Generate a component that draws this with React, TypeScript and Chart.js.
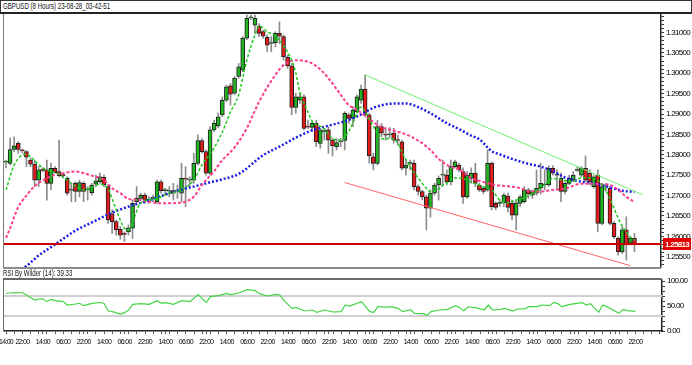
import React, { useEffect, useRef } from 'react';
import { Chart, registerables } from 'chart.js';
Chart.register(...registerables);

const TITLE = 'GBPUSD (8 Hours) 23-08-28_03-42-51';
const RSI_TITLE = 'RSI By Wilder (14): 39.33';
const FONT = "'Liberation Sans', Arial, sans-serif";

const SLOT_COUNT = 161;
const LAST_PRICE = 1.25813;
const Y_MIN = 1.25248;
const Y_MAX = 1.31454;

const OPEN = [
  1.2782, 1.2779, 1.2813, 1.2828, 1.2811, 1.2808, 1.2787, 1.2777, 1.2738, 1.2763,
  1.2763, 1.2730, 1.2767, 1.2759, 1.2750, 1.2742, 1.2713, 1.2730, 1.2710, 1.2730,
  1.2714, 1.2707, 1.2728, 1.2734, 1.2745, 1.2722, 1.2655, 1.2636, 1.2617, 1.2606,
  1.2611, 1.2620, 1.2685, 1.2693, 1.2701, 1.2689, 1.2693, 1.2685, 1.2734, 1.2712,
  1.2711, 1.2712, 1.2711, 1.2706, 1.2741, 1.2738, 1.2738, 1.2779, 1.2835, 1.2808,
  1.2755, 1.2861, 1.2871, 1.2898, 1.2934, 1.2969, 1.2951, 1.2992, 1.3008, 1.3086,
  1.3136, 1.3118, 1.3116, 1.3102, 1.3088, 1.3073, 1.3075, 1.3098, 1.3090, 1.3039,
  1.3018, 1.2916, 1.2934, 1.2942, 1.2869, 1.2867, 1.2877, 1.2828, 1.2857, 1.2861,
  1.2836, 1.2820, 1.2832, 1.2835, 1.2898, 1.2889, 1.2906, 1.2934, 1.2961, 1.2898,
  1.2795, 1.2779, 1.2869, 1.2849, 1.2849, 1.2853, 1.2836, 1.2832, 1.2767, 1.2779,
  1.2779, 1.2722, 1.2710, 1.2697, 1.2669, 1.2706, 1.2726, 1.2750, 1.2750, 1.2734,
  1.2771, 1.2775, 1.2759, 1.2697, 1.2742, 1.2755, 1.2726, 1.2718, 1.2714, 1.2779,
  1.2681, 1.2681, 1.2682, 1.2699, 1.2681, 1.2652, 1.2681, 1.2685, 1.2714, 1.2701,
  1.2706, 1.2718, 1.2726, 1.2726, 1.2767, 1.2750, 1.2742, 1.2710, 1.2730, 1.2738,
  1.2762, 1.2750, 1.2767, 1.2755, 1.2722, 1.2750, 1.2632, 1.2723, 1.2718, 1.2632,
  1.2595, 1.2562, 1.2616, 1.2583, 1.2595
];
const HIGH = [
  1.2787, 1.2841, 1.2844, 1.2832, 1.2814, 1.2810, 1.2792, 1.2787, 1.2771, 1.2768,
  1.2787, 1.2780, 1.2771, 1.2836, 1.2755, 1.2746, 1.2730, 1.2734, 1.2738, 1.2734,
  1.2722, 1.2730, 1.2750, 1.2755, 1.2750, 1.2726, 1.2665, 1.2640, 1.2624, 1.2611,
  1.2628, 1.2689, 1.2722, 1.2706, 1.2706, 1.2697, 1.2701, 1.2738, 1.2738, 1.2718,
  1.2722, 1.2730, 1.2726, 1.2779, 1.2771, 1.2746, 1.2804, 1.2849, 1.2840, 1.2812,
  1.2869, 1.2885, 1.2902, 1.2942, 1.2971, 1.2975, 1.2992, 1.3024, 1.3090, 1.3143,
  1.3143, 1.3143, 1.3122, 1.3106, 1.3094, 1.3090, 1.3102, 1.3126, 1.3094, 1.3045,
  1.3024, 1.2951, 1.2951, 1.2947, 1.2885, 1.2881, 1.2885, 1.2865, 1.2865, 1.2869,
  1.2840, 1.2840, 1.2840, 1.2906, 1.2902, 1.2918, 1.2947, 1.2971, 1.2996, 1.2902,
  1.2804, 1.2885, 1.2877, 1.2867, 1.2867, 1.2865, 1.2849, 1.2836, 1.2787, 1.2787,
  1.2787, 1.2726, 1.2714, 1.2701, 1.2714, 1.2730, 1.2748, 1.2787, 1.2763, 1.2787,
  1.2787, 1.2780, 1.2768, 1.2759, 1.2768, 1.2779, 1.2730, 1.2722, 1.2812, 1.2783,
  1.2685, 1.2689, 1.2706, 1.2706, 1.2689, 1.2689, 1.2701, 1.2722, 1.2718, 1.2714,
  1.2763, 1.2780, 1.2763, 1.2773, 1.2773, 1.2763, 1.2755, 1.2734, 1.2750, 1.2759,
  1.2771, 1.2771, 1.2797, 1.2763, 1.2750, 1.2763, 1.2726, 1.2730, 1.2722, 1.2636,
  1.2599, 1.2624, 1.2648, 1.2599, 1.2607
];
const LOW = [
  1.2768, 1.2775, 1.2808, 1.2804, 1.2804, 1.2771, 1.2771, 1.2722, 1.2722, 1.2758,
  1.2689, 1.2714, 1.2755, 1.2746, 1.2743, 1.2701, 1.2685, 1.2685, 1.2697, 1.2685,
  1.2689, 1.2701, 1.2722, 1.2730, 1.2722, 1.2632, 1.2607, 1.2603, 1.2593, 1.2587,
  1.2603, 1.2595, 1.2681, 1.2689, 1.2681, 1.2681, 1.2685, 1.2681, 1.2706, 1.2701,
  1.2697, 1.2689, 1.2693, 1.2685, 1.2673, 1.2722, 1.2730, 1.2775, 1.2804, 1.2750,
  1.2750, 1.2857, 1.2866, 1.2893, 1.2930, 1.2922, 1.2947, 1.2988, 1.3004, 1.3082,
  1.3131, 1.3098, 1.3090, 1.3086, 1.3053, 1.3053, 1.3065, 1.3073, 1.3032, 1.3012,
  1.2898, 1.2902, 1.2926, 1.2861, 1.2865, 1.2857, 1.2820, 1.2816, 1.2836, 1.2804,
  1.2797, 1.2812, 1.2820, 1.2812, 1.2877, 1.2869, 1.2902, 1.2926, 1.2893, 1.2780,
  1.2763, 1.2775, 1.2844, 1.2836, 1.2841, 1.2829, 1.2824, 1.2763, 1.2750, 1.2763,
  1.2714, 1.2701, 1.2689, 1.2616, 1.2647, 1.2701, 1.2689, 1.2722, 1.2726, 1.2726,
  1.2768, 1.2758, 1.2681, 1.2693, 1.2730, 1.2722, 1.2710, 1.2704, 1.2710, 1.2665,
  1.2665, 1.2673, 1.2673, 1.2660, 1.2640, 1.2616, 1.2673, 1.2682, 1.2693, 1.2693,
  1.2701, 1.2704, 1.2714, 1.2722, 1.2750, 1.2714, 1.2685, 1.2704, 1.2726, 1.2734,
  1.2759, 1.2746, 1.2734, 1.2726, 1.2718, 1.2611, 1.2628, 1.2710, 1.2628, 1.2595,
  1.2554, 1.2558, 1.2542, 1.2579, 1.2562
];
const CLOSE = [
  1.2783, 1.2813, 1.2822, 1.2813, 1.2810, 1.2794, 1.2777, 1.2738, 1.2763, 1.2762,
  1.2730, 1.2767, 1.2756, 1.2749, 1.2749, 1.2706, 1.2714, 1.2710, 1.2732, 1.2710,
  1.2715, 1.2726, 1.2736, 1.2746, 1.2726, 1.2640, 1.2636, 1.2616, 1.2603, 1.2605,
  1.2621, 1.2681, 1.2693, 1.2701, 1.2689, 1.2690, 1.2694, 1.2734, 1.2712, 1.2713,
  1.2712, 1.2706, 1.2712, 1.2742, 1.2740, 1.2740, 1.2779, 1.2835, 1.2808, 1.2755,
  1.2861, 1.2878, 1.2893, 1.2934, 1.2967, 1.2949, 1.2988, 1.3016, 1.3086, 1.3135,
  1.3137, 1.3135, 1.3098, 1.3091, 1.3069, 1.3074, 1.3098, 1.3091, 1.3041, 1.3018,
  1.2916, 1.2942, 1.2942, 1.2865, 1.2868, 1.2877, 1.2832, 1.2861, 1.2858, 1.2836,
  1.2822, 1.2830, 1.2833, 1.2902, 1.2889, 1.2910, 1.2942, 1.2961, 1.2898, 1.2798,
  1.2779, 1.2869, 1.2853, 1.2848, 1.2850, 1.2836, 1.2835, 1.2767, 1.2775, 1.2780,
  1.2722, 1.2710, 1.2697, 1.2669, 1.2706, 1.2726, 1.2742, 1.2751, 1.2734, 1.2771,
  1.2783, 1.2763, 1.2697, 1.2750, 1.2755, 1.2730, 1.2714, 1.2710, 1.2779, 1.2673,
  1.2671, 1.2682, 1.2701, 1.2671, 1.2652, 1.2682, 1.2697, 1.2714, 1.2704, 1.2710,
  1.2718, 1.2730, 1.2727, 1.2767, 1.2755, 1.2751, 1.2710, 1.2730, 1.2742, 1.2750,
  1.2763, 1.2767, 1.2738, 1.2734, 1.2746, 1.2632, 1.2722, 1.2724, 1.2632, 1.2599,
  1.2562, 1.2616, 1.2579, 1.2595, 1.2581
];

// [candle index, value]
const MA_FAST = [
  [0, 1.2714], [2, 1.2775], [5, 1.2802], [6, 1.2795], [9, 1.2768], [13, 1.2752], [17, 1.2723], [19, 1.2714],
  [21, 1.2720], [23, 1.2728], [25, 1.2716], [27, 1.2665], [29, 1.2620], [30, 1.2616], [31, 1.2635], [33, 1.2682],
  [35, 1.2689], [37, 1.2693], [40, 1.2706], [42, 1.2710], [44, 1.2720], [46, 1.2738], [48, 1.2775], [51, 1.2817],
  [53, 1.2856], [55, 1.2905], [57, 1.2947], [59, 1.3032], [61, 1.3094], [62, 1.3116], [64, 1.3102], [66, 1.3091],
  [68, 1.3067], [70, 1.3032], [71, 1.3001], [72, 1.2954], [74, 1.2905], [75, 1.2883], [78, 1.2864], [80, 1.2840],
  [82, 1.2836], [84, 1.2858], [85, 1.2878], [87, 1.2917], [88, 1.2905], [89, 1.2888], [91, 1.2853], [92, 1.2839],
  [94, 1.2840], [96, 1.2829], [97, 1.2807], [99, 1.2771], [101, 1.2743], [103, 1.2718], [104, 1.2710], [106, 1.2716],
  [107, 1.2726], [109, 1.2736], [110, 1.2743], [112, 1.2742], [114, 1.2733], [117, 1.2721], [119, 1.2714], [121, 1.2689],
  [123, 1.2682], [125, 1.2689], [127, 1.2695], [130, 1.2710], [132, 1.2727], [134, 1.2742], [136, 1.2739], [139, 1.2734],
  [141, 1.2744], [144, 1.2742], [146, 1.2728], [148, 1.2692], [150, 1.2645], [151, 1.2625], [153, 1.2598], [154, 1.2591]
];
const MA_MID = [
  [0, 1.2596], [1, 1.2620], [3, 1.2672], [5, 1.2700], [7, 1.2723], [9, 1.2737], [12, 1.2751], [14, 1.2755],
  [17, 1.2759], [19, 1.2755], [21, 1.2749], [24, 1.2738], [26, 1.2718], [28, 1.2706], [30, 1.2692], [33, 1.2689],
  [35, 1.2685], [38, 1.2681], [40, 1.2681], [43, 1.2683], [44, 1.2685], [46, 1.2697], [48, 1.2726], [51, 1.2760],
  [53, 1.2787], [56, 1.2818], [59, 1.2865], [62, 1.2930], [66, 1.2996], [68, 1.3020], [71, 1.3032], [74, 1.3028],
  [76, 1.3018], [79, 1.2988], [81, 1.2961], [84, 1.2922], [86, 1.2910], [89, 1.2888], [92, 1.2867], [94, 1.2862],
  [98, 1.2850], [101, 1.2835], [104, 1.2812], [106, 1.2790], [109, 1.2770], [111, 1.2764], [114, 1.2743], [117, 1.2733],
  [120, 1.2726], [123, 1.2723], [126, 1.2718], [128, 1.2711], [131, 1.2710], [134, 1.2714], [137, 1.2717], [141, 1.2729],
  [146, 1.2728], [148, 1.2726], [150, 1.2714], [152, 1.2697], [154, 1.2684]
];
const MA_SLOW = [
  [3, 1.2513], [5, 1.2527], [8, 1.2553], [12, 1.2580], [17, 1.2614], [21, 1.2634], [26, 1.2658], [30, 1.2673],
  [34, 1.2685], [38, 1.2699], [42, 1.2712], [46, 1.2722], [49, 1.2730], [53, 1.2740], [57, 1.2753], [63, 1.2799],
  [67, 1.2820], [71, 1.2842], [75, 1.2860], [80, 1.2874], [83, 1.2882], [86, 1.2894], [90, 1.2915], [94, 1.2925],
  [98, 1.2926], [101, 1.2917], [104, 1.2902], [108, 1.2878], [111, 1.2863], [114, 1.2847], [116, 1.2838], [119, 1.2809],
  [121, 1.2801], [124, 1.2790], [128, 1.2778], [131, 1.2771], [134, 1.2760], [137, 1.2744], [141, 1.2734], [144, 1.2730],
  [147, 1.2723], [151, 1.2712], [154, 1.2709]
];
const UPPER_TREND = [[88, 1.2996], [156, 1.2702]];
const LOWER_TREND = [[83, 1.2732], [153, 1.2528]];

const RSI = [
  [0, 75], [2, 77], [4, 76.5], [5, 72], [7, 62], [8, 64], [9, 64.5], [10, 58.7], [11, 63.3], [12, 60.7],
  [14, 58.7], [15, 52], [17, 54], [18, 55.3], [19, 50.7], [21, 55.3], [23, 57], [24, 55], [25, 40], [26, 38.7],
  [28, 34], [29, 36.7], [30, 42], [31, 53.3], [33, 54.7], [35, 53.3], [37, 60.7], [38, 55.3], [39, 56.7], [41, 53.3],
  [43, 60.7], [45, 58.7], [47, 72.7], [49, 56.7], [50, 68.7], [52, 70.7], [54, 75.3], [55, 72.7], [57, 76], [59, 82.7],
  [61, 80.7], [62, 74.7], [64, 70], [66, 73.3], [67, 72], [68, 60.7], [70, 45.3], [71, 47.3], [73, 40], [75, 42],
  [76, 37.3], [78, 42], [80, 38], [82, 38.7], [83, 52], [84, 50], [87, 58.7], [89, 38.7], [90, 37.3], [91, 49.3],
  [93, 47.3], [94, 48.7], [96, 45.3], [97, 38.7], [99, 42], [100, 35.3], [102, 34.7], [103, 31.3], [104, 38.7], [106, 42],
  [108, 43.3], [110, 50.7], [111, 46.7], [112, 40], [113, 48], [115, 46.7], [117, 42], [118, 52], [119, 42], [121, 43.3],
  [122, 45.3], [124, 40], [125, 44], [127, 44.7], [128, 48.7], [130, 48.7], [131, 52], [133, 50.7], [134, 57.3], [135, 54.7],
  [136, 48.7], [138, 53.3], [141, 56.7], [142, 52], [143, 54.7], [145, 37.3], [146, 52], [147, 48.7], [150, 35.3], [151, 43.3],
  [152, 40.7], [154, 39.33]
];
const RSI_LEVELS = [70, 30];
const RSI_LABELS = [0, 50, 100];

const TICK_INDEX = [0, 4, 9, 14, 19, 24, 29, 34, 39, 44, 49, 54, 59, 64, 69, 74, 79, 84, 89, 94, 99, 104, 109, 114, 119, 124, 129, 134, 139, 144, 149, 154];
const TICK_TEXT = ['14:00', '22:00', '14:00', '06:00', '22:00', '14:00', '06:00', '22:00', '14:00', '06:00', '22:00', '14:00', '06:00', '22:00', '14:00', '06:00',
  '22:00', '14:00', '06:00', '22:00', '14:00', '06:00', '22:00', '14:00', '06:00', '22:00', '14:00', '06:00', '22:00', '14:00', '06:00', '22:00'];

const SLOT_LABELS = Array.from({ length: SLOT_COUNT }, (_, i) => String(i));

function toSeries(pairs: number[][]) {
  const a: (number | null)[] = new Array(SLOT_COUNT).fill(null);
  pairs.forEach(([i, v]) => { a[i] = v; });
  return a;
}

const priceTicks: number[] = [];
for (let k = 1253; k <= 1314; k++) priceTicks.push(k / 1000);
const isMajorPrice = (v: number) => Math.abs(v * 200 - Math.round(v * 200)) < 1e-6;

const tightText = {
  id: 'tightText',
  beforeDraw(chart: any) {
    try { chart.ctx.letterSpacing = '-0.7px'; } catch (e) { /* ignore */ }
  }
};

const mainPlugin = {
  id: 'mainDecor',
  afterDatasetsDraw(chart: any) {
    const { ctx, chartArea: a, scales } = chart;
    const y = Math.round(scales.y.getPixelForValue(LAST_PRICE));
    ctx.save();
    ctx.strokeStyle = '#c80000';
    ctx.lineWidth = 2;
    ctx.beginPath();
    ctx.moveTo(a.left, y);
    ctx.lineTo(a.right, y);
    ctx.stroke();
    ctx.restore();
  },
  afterDraw(chart: any) {
    const { ctx, chartArea: a, scales } = chart;
    ctx.save();
    ctx.strokeStyle = '#7a7a7a';
    ctx.lineWidth = 1;
    ctx.beginPath();
    ctx.moveTo(a.left - 0.5, a.top);
    ctx.lineTo(a.left - 0.5, a.bottom + 1);
    ctx.stroke();
    ctx.strokeStyle = '#8a8a8a';
    ctx.lineWidth = 2;
    ctx.beginPath();
    ctx.moveTo(a.left - 1, a.bottom + 1);
    ctx.lineTo(a.right, a.bottom + 1);
    ctx.stroke();
    const y = Math.round(scales.y.getPixelForValue(LAST_PRICE));
    ctx.fillStyle = '#e00000';
    ctx.fillRect(a.right + 2, y - 6, 28, 12);
    ctx.fillStyle = '#ffffff';
    ctx.font = `bold 8px ${FONT}`;
    ctx.textBaseline = 'middle';
    ctx.textAlign = 'left';
    ctx.fillText(LAST_PRICE.toFixed(5), a.right + 4, y + 0.5);
    ctx.restore();
  }
};

const rsiPlugin = {
  id: 'rsiDecor',
  beforeDatasetsDraw(chart: any) {
    const { ctx, chartArea: a, scales } = chart;
    ctx.save();
    ctx.strokeStyle = '#cfcfcf';
    ctx.lineWidth = 2;
    RSI_LEVELS.forEach((lv) => {
      const y = Math.round(scales.y.getPixelForValue(lv));
      ctx.beginPath();
      ctx.moveTo(a.left, y);
      ctx.lineTo(a.right, y);
      ctx.stroke();
    });
    ctx.restore();
  },
  afterDraw(chart: any) {
    const { ctx, chartArea: a } = chart;
    ctx.save();
    ctx.strokeStyle = '#6a6a6a';
    ctx.lineWidth = 1;
    ctx.beginPath();
    ctx.moveTo(a.left - 0.5, a.top - 1);
    ctx.lineTo(a.left - 0.5, a.bottom);
    ctx.stroke();
    ctx.lineWidth = 2;
    ctx.beginPath();
    ctx.moveTo(a.left - 1, a.top - 1);
    ctx.lineTo(a.right, a.top - 1);
    ctx.stroke();
    ctx.restore();
  }
};

const noPad = (scale: any) => {
  scale.paddingTop = 0;
  scale.paddingBottom = 0;
  scale.paddingLeft = 0;
  scale.paddingRight = 0;
};

export default function App() {
  const mainRef = useRef<HTMLCanvasElement>(null);
  const rsiRef = useRef<HTMLCanvasElement>(null);

  useEffect(() => {
    const bodies = OPEN.map((o, i) => [o, CLOSE[i]]);
    const wicks = LOW.map((l, i) => [l, HIGH[i]]);
    const bodyColors = OPEN.map((o, i) => (CLOSE[i] >= o ? '#22b422' : '#e51c1c'));

    const main = new Chart(mainRef.current as HTMLCanvasElement, {
      type: 'bar',
      data: {
        labels: SLOT_LABELS,
        datasets: [
          { type: 'line', label: 'Upper trend', data: toSeries(UPPER_TREND), borderColor: '#6ef06e', borderWidth: 1, pointRadius: 0, spanGaps: true, order: 0 } as any,
          { type: 'line', label: 'Lower trend', data: toSeries(LOWER_TREND), borderColor: '#ff6464', borderWidth: 1, pointRadius: 0, spanGaps: true, order: 0 } as any,
          { type: 'line', label: 'MA fast', data: toSeries(MA_FAST), borderColor: '#1ec81e', borderWidth: 1.5, borderDash: [3, 2], pointRadius: 0, spanGaps: true, cubicInterpolationMode: 'monotone', order: 1 } as any,
          { type: 'line', label: 'MA mid', data: toSeries(MA_MID), borderColor: '#ff3d8e', borderWidth: 2, borderDash: [3, 2], pointRadius: 0, spanGaps: true, cubicInterpolationMode: 'monotone', order: 2 } as any,
          { type: 'line', label: 'MA slow', data: toSeries(MA_SLOW), borderColor: '#1c1ce6', borderWidth: 2.5, borderDash: [2, 2], pointRadius: 0, spanGaps: true, cubicInterpolationMode: 'monotone', order: 3 } as any,
          { type: 'bar', label: 'Body', data: bodies, backgroundColor: bodyColors, borderColor: '#1f1f1f', borderWidth: 1, borderSkipped: false, barThickness: 4, minBarLength: 1, grouped: false, order: 4 } as any,
          { type: 'bar', label: 'Wick', data: wicks, backgroundColor: '#8c8c8c', borderWidth: 0, barThickness: 1, grouped: false, order: 5 } as any,
        ]
      },
      options: {
        animation: false,
        responsive: false,
        maintainAspectRatio: false,
        layout: { padding: { left: 4, top: 14, right: 0, bottom: 3 } },
        plugins: { legend: { display: false }, tooltip: { enabled: false } },
        scales: {
          x: { display: false, offset: true, grid: { display: false } },
          y: {
            position: 'right',
            min: Y_MIN,
            max: Y_MAX,
            afterBuildTicks: (scale: any) => { scale.ticks = priceTicks.map((value) => ({ value })); },
            afterFit: (scale: any) => { scale.width = 31; noPad(scale); },
            ticks: {
              autoSkip: false,
              padding: 2,
              color: '#000',
              font: { family: FONT, size: 8 },
              callback: (v: any) => (isMajorPrice(Number(v)) ? Number(v).toFixed(5) : ''),
            },
            grid: { drawOnChartArea: false, tickLength: 3, color: '#333' },
            border: { color: '#222', width: 1.5 },
          } as any,
        }
      },
      plugins: [tightText, mainPlugin]
    } as any);

    const tickMap: Record<number, string> = {};
    TICK_INDEX.forEach((ix, k) => { tickMap[ix] = TICK_TEXT[k]; });

    const rsi = new Chart(rsiRef.current as HTMLCanvasElement, {
      type: 'line',
      data: {
        labels: SLOT_LABELS,
        datasets: [
          { label: 'RSI', data: toSeries(RSI), borderColor: '#44d444', borderWidth: 1.2, pointRadius: 0, spanGaps: true, tension: 0 } as any,
        ]
      },
      options: {
        animation: false,
        responsive: false,
        maintainAspectRatio: false,
        layout: { padding: { left: 4, top: 10, right: 0, bottom: 0 } },
        plugins: { legend: { display: false }, tooltip: { enabled: false } },
        scales: {
          x: {
            offset: true,
            afterFit: (scale: any) => { scale.height = 34; noPad(scale); },
            ticks: {
              autoSkip: false,
              maxRotation: 0,
              minRotation: 0,
              padding: 4,
              color: '#000',
              font: { family: FONT, size: 7 },
              callback: (_v: any, i: number) => tickMap[i] ?? '',
            },
            grid: {
              drawOnChartArea: false,
              tickLength: 3,
              color: (c: any) => (tickMap[c.index] !== undefined || c.index % 2 === 0 ? '#555' : 'rgba(0,0,0,0)'),
            },
            border: { color: '#222', width: 1.5 },
          } as any,
          y: {
            position: 'right',
            min: 0,
            max: 102,
            afterBuildTicks: (scale: any) => { scale.ticks = [0, 10, 20, 30, 40, 50, 60, 70, 80, 90, 100].map((value) => ({ value })); },
            afterFit: (scale: any) => { scale.width = 30; noPad(scale); },
            ticks: {
              autoSkip: false,
              padding: 2,
              color: '#000',
              font: { family: FONT, size: 8 },
              callback: (v: any) => (RSI_LABELS.includes(Number(v)) ? Number(v).toFixed(2) : ''),
            },
            grid: { drawOnChartArea: false, tickLength: 3, color: '#333' },
            border: { color: '#222', width: 1.5 },
          } as any,
        }
      },
      plugins: [tightText, rsiPlugin]
    } as any);

    return () => { main.destroy(); rsi.destroy(); };
  }, []);

  const squeeze: React.CSSProperties = { display: 'inline-block', transform: 'scaleX(0.68)', transformOrigin: '0 0' };

  return (
    <div style={{ position: 'relative', width: 692, height: 365, background: '#fff', overflow: 'hidden', fontFamily: FONT }}>
      <style>{'body{margin:0}'}</style>
      <div style={{
        position: 'absolute', left: 0, top: 0, width: 692, height: 14, boxSizing: 'border-box',
        borderTop: '1px solid #333', borderLeft: '1px solid #333', borderRight: '1px solid #333', borderBottom: '2px solid #222',
        fontSize: 9, lineHeight: '11px', paddingLeft: 2, color: '#111', whiteSpace: 'nowrap'
      }}><span style={squeeze}>{TITLE}</span></div>
      <canvas ref={mainRef} width={692} height={270} style={{ position: 'absolute', left: 0, top: 0, width: 692, height: 270 }} />
      <div style={{ position: 'absolute', left: 3, top: 268, fontSize: 9, lineHeight: '11px', color: '#111', whiteSpace: 'nowrap' }}><span style={squeeze}>{RSI_TITLE}</span></div>
      <canvas ref={rsiRef} width={692} height={95} style={{ position: 'absolute', left: 0, top: 270, width: 692, height: 95 }} />
    </div>
  );
}
